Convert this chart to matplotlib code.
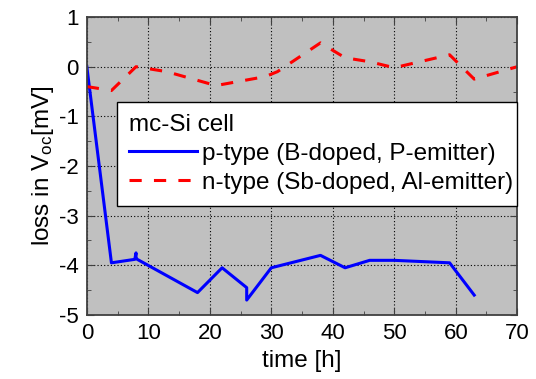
import matplotlib
matplotlib.use("Agg")
import matplotlib.pyplot as plt
from matplotlib.ticker import MultipleLocator

plt.rcParams['font.family'] = ['Liberation Sans', 'DejaVu Sans']
plt.rcParams['mathtext.default'] = 'regular'
plt.rcParams['axes.unicode_minus'] = False

# p-type (B-doped, P-emitter)
p_time = [0, 4, 7.8, 8, 8, 8.2, 18, 22, 26, 26, 30, 38, 42, 46, 50, 59, 63]
p_loss = [0, -3.95, -3.88, -3.75, -3.86, -3.88, -4.55, -4.05, -4.45, -4.7, -4.05,
          -3.8, -4.05, -3.9, -3.9, -3.95, -4.6]

# n-type (Sb-doped, Al-emitter)
n_time = [0, 4, 8, 13, 21, 29, 31, 38, 42, 46, 50, 59, 63, 70]
n_loss = [-0.4, -0.48, 0.0, -0.1, -0.38, -0.2, -0.1, 0.48, 0.18, 0.1, -0.02, 0.24, -0.25, 0.0]

fig = plt.figure(figsize=(5.36, 3.79), dpi=100)
ax = fig.add_axes([0.162, 0.169, 0.803, 0.786])
ax.set_facecolor('#c0c0c0')

ax.plot(p_time, p_loss, color='#0000ff', lw=2.2, label='p-type (B-doped, P-emitter)')
ax.plot(n_time, n_loss, color='#ff0000', lw=2.2, dashes=(4, 4), label='n-type (Sb-doped, Al-emitter)')

ax.set_xlim(0, 70)
ax.set_ylim(-5, 1)
ax.xaxis.set_major_locator(MultipleLocator(10))
ax.xaxis.set_minor_locator(MultipleLocator(5))
ax.yaxis.set_major_locator(MultipleLocator(1))
ax.yaxis.set_minor_locator(MultipleLocator(0.5))
ax.tick_params(which='both', direction='in', top=True, right=True, labelsize=16,
               color='#404040')
ax.tick_params(which='major', length=5, pad=6)
ax.tick_params(which='minor', length=3)
ax.grid(True, which='major', color='black', linestyle=(0, (1, 2)), lw=0.8)
for s in ax.spines.values():
    s.set_linewidth(1.3)
    s.set_color('#404040')

ax.set_xlabel('time [h]', fontsize=17.5, labelpad=4)
ax.set_ylabel('loss in V$_{oc}$[mV]', fontsize=17.5, labelpad=2)

leg = ax.legend(title='mc-Si cell', loc='upper left', bbox_to_anchor=(0.07, 0.354, 0.93, 0.36),
                mode='expand', fontsize=17.5, title_fontsize=17.5, fancybox=False,
                framealpha=1, edgecolor='black', handlelength=2.8, handletextpad=0.2,
                borderpad=0.5, labelspacing=0.27, borderaxespad=0, alignment='left')
leg.get_frame().set_linewidth(1.0)

fig.savefig('out.png', dpi=100)
